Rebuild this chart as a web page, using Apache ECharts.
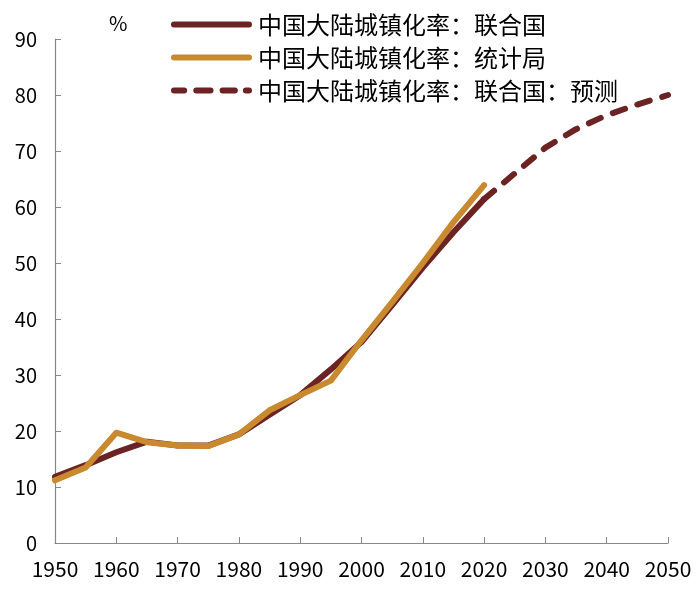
<!DOCTYPE html>
<html>
<head>
<meta charset="utf-8">
<script src="https://cdn.jsdelivr.net/npm/echarts@6/dist/echarts.min.js"></script>
<style>html,body{margin:0;padding:0;background:#fff}#c{width:700px;height:589px}</style>
</head>
<body>
<div id="c"></div>
<script>
var seriesNames = ['中国大陆城镇化率：联合国', '中国大陆城镇化率：统计局', '中国大陆城镇化率：联合国：预测'];
var years = [1950, 1955, 1960, 1965, 1970, 1975, 1980, 1985, 1990, 1995, 2000, 2005, 2010, 2015, 2020];
var unValues = [11.8, 13.9, 16.2, 18.1, 17.4, 17.4, 19.4, 22.9, 26.4, 31.0, 35.9, 42.5, 49.2, 55.5, 61.4];
var nbsValues = [11.2, 13.5, 19.7, 18.0, 17.4, 17.3, 19.4, 23.7, 26.4, 29.0, 36.2, 43.0, 50.0, 57.3, 63.9];
var projYears = [2020, 2025, 2030, 2035, 2040, 2045, 2050];
var projValues = [61.4, 66.0, 70.6, 73.9, 76.4, 78.3, 80.0];

function pairs(xs, ys) { return xs.map(function (x, i) { return [x, ys[i]]; }); }

var maroon = '#6B2323';
var orange = '#C8892F';
var font = 'Noto Sans CJK SC';
var solidIcon = 'path://M3,0H77A3,3 0 0 1 77,6H3A3,3 0 0 1 3,0Z';
var dashIcon = 'path://M3,0H13A3,3 0 0 1 13,6H3A3,3 0 0 1 3,0Z M25,0H39A3,3 0 0 1 39,6H25A3,3 0 0 1 25,0Z M51,0H63A3,3 0 0 1 63,6H51A3,3 0 0 1 51,0Z M74,0H77A3,3 0 0 1 77,6H74A3,3 0 0 1 74,0Z';

var chart = echarts.init(document.getElementById('c'));
chart.setOption({
  animation: false,
  textStyle: { fontFamily: font },
  title: { text: '%', left: 104, top: 8, textStyle: { fontSize: 20, fontWeight: 'normal', color: '#000', fontFamily: font } },
  legend: {
    orient: 'vertical', left: 166, top: 7,
    itemWidth: 81, itemHeight: 7, itemGap: 8,
    data: [
      { name: seriesNames[0], icon: solidIcon },
      { name: seriesNames[1], icon: solidIcon },
      { name: seriesNames[2], icon: dashIcon }
    ],
    textStyle: { fontSize: 24, lineHeight: 25, color: '#000', fontFamily: font, padding: [0, 0, 0, 1] }
  },
  grid: { left: 55, right: 32, top: 39, bottom: 46 },
  xAxis: {
    type: 'value', min: 1950, max: 2050, interval: 10,
    axisLine: { lineStyle: { color: '#888', width: 1.2 } },
    axisTick: { inside: true, length: 6, lineStyle: { color: '#888' } },
    axisLabel: { fontSize: 21, color: '#000', margin: 16, fontFamily: font, formatter: function (v) { return String(v); } },
    splitLine: { show: false }
  },
  yAxis: {
    type: 'value', min: 0, max: 90, interval: 10,
    axisLine: { show: true, lineStyle: { color: '#888', width: 1.2 } },
    axisTick: { show: true, inside: true, length: 6, lineStyle: { color: '#888' } },
    axisLabel: { fontSize: 20, color: '#000', margin: 18, fontFamily: font },
    splitLine: { show: false }
  },
  series: [
    { name: seriesNames[0], type: 'line', data: pairs(years, unValues), showSymbol: false, symbol: 'none',
      lineStyle: { color: maroon, width: 6, cap: 'round', join: 'round' }, itemStyle: { color: maroon } },
    { name: seriesNames[1], type: 'line', data: pairs(years, nbsValues), showSymbol: false, symbol: 'none',
      lineStyle: { color: orange, width: 6, cap: 'round', join: 'round' }, itemStyle: { color: orange } },
    { name: seriesNames[2], type: 'line', data: pairs(projYears, projValues), showSymbol: false, symbol: 'none',
      lineStyle: { color: maroon, width: 6, type: [13, 13], cap: 'round' }, itemStyle: { color: maroon } }
  ]
});
</script>
</body>
</html>
